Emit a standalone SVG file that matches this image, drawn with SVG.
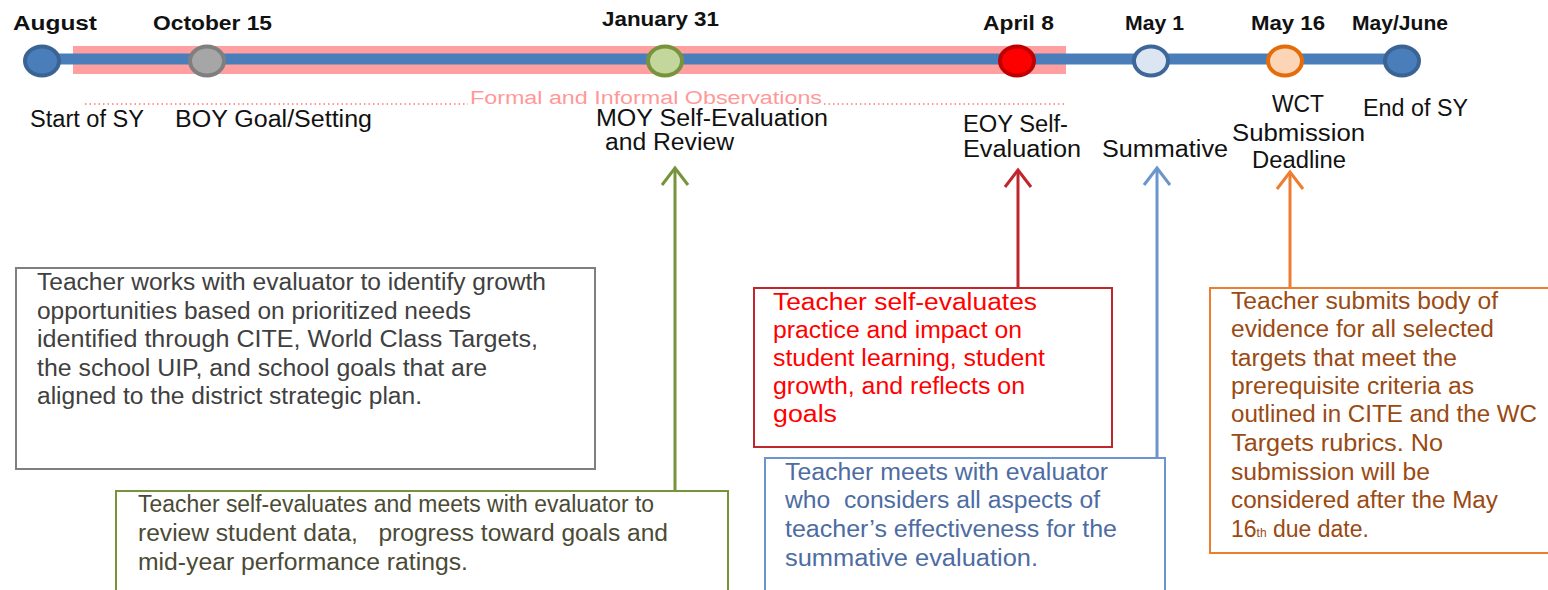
<svg xmlns="http://www.w3.org/2000/svg" width="1548" height="590" viewBox="0 0 1548 590">
<style>
.top{font-family:"Liberation Sans",Arial,sans-serif;font-weight:bold;font-size:20px;fill:#111}
.lbl{font-family:"Liberation Sans",Arial,sans-serif;font-size:23px;fill:#111}
.obs{font-family:"Liberation Sans",Arial,sans-serif;font-size:18px;fill:#ff9999}
.bt{font-family:"Liberation Sans",Arial,sans-serif;font-size:23px}
.box{fill:#fff;stroke-width:2}
.conn{fill:none;stroke-width:3}
</style>
<defs>
<marker id="ah-green" markerUnits="userSpaceOnUse" markerWidth="40" markerHeight="40" viewBox="-20 -20 40 40" refX="0" refY="0" orient="auto"><path d="M-17,-13 L0,0 L-17,13" fill="none" stroke="#77933c" stroke-width="3"/></marker>
<marker id="ah-red" markerUnits="userSpaceOnUse" markerWidth="40" markerHeight="40" viewBox="-20 -20 40 40" refX="0" refY="0" orient="auto"><path d="M-17,-13 L0,0 L-17,13" fill="none" stroke="#c0272d" stroke-width="3"/></marker>
<marker id="ah-blue" markerUnits="userSpaceOnUse" markerWidth="40" markerHeight="40" viewBox="-20 -20 40 40" refX="0" refY="0" orient="auto"><path d="M-17,-13 L0,0 L-17,13" fill="none" stroke="#6b95cc" stroke-width="3"/></marker>
<marker id="ah-orange" markerUnits="userSpaceOnUse" markerWidth="40" markerHeight="40" viewBox="-20 -20 40 40" refX="0" refY="0" orient="auto"><path d="M-17,-13 L0,0 L-17,13" fill="none" stroke="#ed7d31" stroke-width="3"/></marker>
</defs>
<rect width="1548" height="590" fill="#fff"/>

<g id="timeline">
<rect x="73" y="46" width="993" height="28" fill="#ff9f9f"/>
<line x1="42" y1="59" x2="1402" y2="59" stroke="#4a7ebb" stroke-width="11"/>
<line x1="85" y1="104" x2="468" y2="104" stroke="#ff9999" stroke-width="2" stroke-dasharray="1.5 3"/>
<line x1="824" y1="104" x2="1066" y2="104" stroke="#ff9999" stroke-width="2" stroke-dasharray="1.5 3"/>
<text class="obs" x="470" y="104" textLength="352" lengthAdjust="spacingAndGlyphs">Formal and Informal Observations</text>
</g>

<g id="m-august">
<ellipse cx="42" cy="61" rx="17" ry="14.5" fill="#4a7ebb" stroke="#3a6494" stroke-width="4"/>
<text class="top" x="13" y="30" textLength="84" lengthAdjust="spacingAndGlyphs">August</text>
<text class="lbl" x="30" y="127" textLength="114" lengthAdjust="spacingAndGlyphs">Start of SY</text>
</g>
<g id="m-october">
<ellipse cx="207" cy="61" rx="17" ry="14.5" fill="#a6a6a6" stroke="#7f7f7f" stroke-width="4"/>
<text class="top" x="153" y="30" textLength="119" lengthAdjust="spacingAndGlyphs">October 15</text>
<text class="lbl" x="175" y="127" textLength="197" lengthAdjust="spacingAndGlyphs">BOY Goal/Setting</text>
</g>
<g id="m-january">
<ellipse cx="665" cy="61" rx="17" ry="14.5" fill="#c3d69b" stroke="#77933c" stroke-width="4"/>
<text class="top" x="602" y="26" textLength="117" lengthAdjust="spacingAndGlyphs">January 31</text>
<text class="lbl" x="596" y="126" textLength="232" lengthAdjust="spacingAndGlyphs">MOY Self-Evaluation</text>
<text class="lbl" x="605" y="150" textLength="129" lengthAdjust="spacingAndGlyphs">and Review</text>
</g>
<g id="m-april">
<ellipse cx="1017" cy="61" rx="17" ry="14.5" fill="#ff0000" stroke="#c00000" stroke-width="4"/>
<text class="top" x="983" y="30" textLength="71" lengthAdjust="spacingAndGlyphs">April 8</text>
<text class="lbl" x="963" y="132" textLength="105" lengthAdjust="spacingAndGlyphs">EOY Self-</text>
<text class="lbl" x="963" y="157" textLength="118" lengthAdjust="spacingAndGlyphs">Evaluation</text>
</g>
<g id="m-may1">
<ellipse cx="1151" cy="61" rx="17" ry="14.5" fill="#dce6f2" stroke="#3d6699" stroke-width="4"/>
<text class="top" x="1125" y="30" textLength="59" lengthAdjust="spacingAndGlyphs">May 1</text>
<text class="lbl" x="1102" y="157" textLength="126" lengthAdjust="spacingAndGlyphs">Summative</text>
</g>
<g id="m-may16">
<ellipse cx="1285" cy="61" rx="17" ry="14.5" fill="#fbd5b5" stroke="#e46c0a" stroke-width="4"/>
<text class="top" x="1251" y="30" textLength="74" lengthAdjust="spacingAndGlyphs">May 16</text>
<text class="lbl" x="1272" y="112" textLength="52" lengthAdjust="spacingAndGlyphs">WCT</text>
<text class="lbl" x="1232" y="141" textLength="133" lengthAdjust="spacingAndGlyphs">Submission</text>
<text class="lbl" x="1252" y="168" textLength="94" lengthAdjust="spacingAndGlyphs">Deadline</text>
</g>
<g id="m-mayjune">
<ellipse cx="1402" cy="61" rx="17" ry="14.5" fill="#4a7ebb" stroke="#3a6494" stroke-width="4"/>
<text class="top" x="1352" y="30" textLength="96" lengthAdjust="spacingAndGlyphs">May/June</text>
<text class="lbl" x="1363" y="116" textLength="105" lengthAdjust="spacingAndGlyphs">End of SY</text>
</g>

<g id="connectors">
<line class="conn" x1="675" y1="491" x2="675" y2="168" stroke="#77933c" marker-end="url(#ah-green)"/>
<line class="conn" x1="1018" y1="288" x2="1018" y2="170" stroke="#c0272d" marker-end="url(#ah-red)"/>
<line class="conn" x1="1157" y1="458" x2="1157" y2="168" stroke="#6b95cc" marker-end="url(#ah-blue)"/>
<line class="conn" x1="1290" y1="288" x2="1290" y2="172" stroke="#ed7d31" marker-end="url(#ah-orange)"/>
</g>

<g id="box-boy">
<rect class="box" x="16" y="268" width="579" height="201" stroke="#7f7f7f"/>
<g class="bt" fill="#404040">
<text x="37" y="290" textLength="509" lengthAdjust="spacingAndGlyphs">Teacher works with evaluator to identify growth</text>
<text x="37" y="318.5" textLength="434" lengthAdjust="spacingAndGlyphs">opportunities based on prioritized needs</text>
<text x="37" y="347" textLength="501" lengthAdjust="spacingAndGlyphs">identified through CITE, World Class Targets,</text>
<text x="37" y="375.5" textLength="450" lengthAdjust="spacingAndGlyphs">the school UIP, and school goals that are</text>
<text x="37" y="404" textLength="385" lengthAdjust="spacingAndGlyphs">aligned to the district strategic plan.</text>
</g>
</g>

<g id="box-moy">
<rect class="box" x="116" y="491" width="612" height="110" stroke="#77933c"/>
<g class="bt" fill="#4a4a35">
<text x="138" y="512" textLength="516" lengthAdjust="spacingAndGlyphs">Teacher self-evaluates and meets with evaluator to</text>
<text x="138" y="541" textLength="530" lengthAdjust="spacingAndGlyphs" xml:space="preserve">review student data,   progress toward goals and</text>
<text x="138" y="570" textLength="330" lengthAdjust="spacingAndGlyphs">mid-year performance ratings.</text>
</g>
</g>

<g id="box-eoy">
<rect class="box" x="754" y="288" width="358" height="159" stroke="#c0272d"/>
<g class="bt" fill="#ff0000">
<text x="773" y="310" textLength="264" lengthAdjust="spacingAndGlyphs">Teacher self-evaluates</text>
<text x="773" y="338" textLength="249" lengthAdjust="spacingAndGlyphs">practice and impact on</text>
<text x="773" y="366" textLength="272" lengthAdjust="spacingAndGlyphs">student learning, student</text>
<text x="773" y="394" textLength="252" lengthAdjust="spacingAndGlyphs">growth, and reflects on</text>
<text x="773" y="422" textLength="64" lengthAdjust="spacingAndGlyphs">goals</text>
</g>
</g>

<g id="box-summative">
<rect class="box" x="765" y="458" width="400" height="145" stroke="#6b95cc"/>
<g class="bt" fill="#4d6ca3">
<text x="785" y="480" textLength="323" lengthAdjust="spacingAndGlyphs">Teacher meets with evaluator</text>
<text x="785" y="508" textLength="315" lengthAdjust="spacingAndGlyphs" xml:space="preserve">who  considers all aspects of</text>
<text x="785" y="537" textLength="332" lengthAdjust="spacingAndGlyphs">teacher’s effectiveness for the</text>
<text x="785" y="566" textLength="253" lengthAdjust="spacingAndGlyphs">summative evaluation.</text>
</g>
</g>

<g id="box-wct">
<rect class="box" x="1210" y="288" width="360" height="265" stroke="#ed7d31" stroke-width="2.5"/>
<g class="bt" fill="#9a4a12">
<text x="1231" y="309" textLength="267" lengthAdjust="spacingAndGlyphs">Teacher submits body of</text>
<text x="1231" y="337" textLength="263" lengthAdjust="spacingAndGlyphs">evidence for all selected</text>
<text x="1231" y="366" textLength="226" lengthAdjust="spacingAndGlyphs">targets that meet the</text>
<text x="1231" y="394" textLength="243" lengthAdjust="spacingAndGlyphs">prerequisite criteria as</text>
<text x="1231" y="422" textLength="306" lengthAdjust="spacingAndGlyphs">outlined in CITE and the WC</text>
<text x="1231" y="451" textLength="212" lengthAdjust="spacingAndGlyphs">Targets rubrics. No</text>
<text x="1231" y="480" textLength="199" lengthAdjust="spacingAndGlyphs">submission will be</text>
<text x="1231" y="508" textLength="267" lengthAdjust="spacingAndGlyphs">considered after the May</text>
<text x="1231" y="537">16<tspan font-size="12">th</tspan> due date.</text>
</g>
</g>
</svg>
